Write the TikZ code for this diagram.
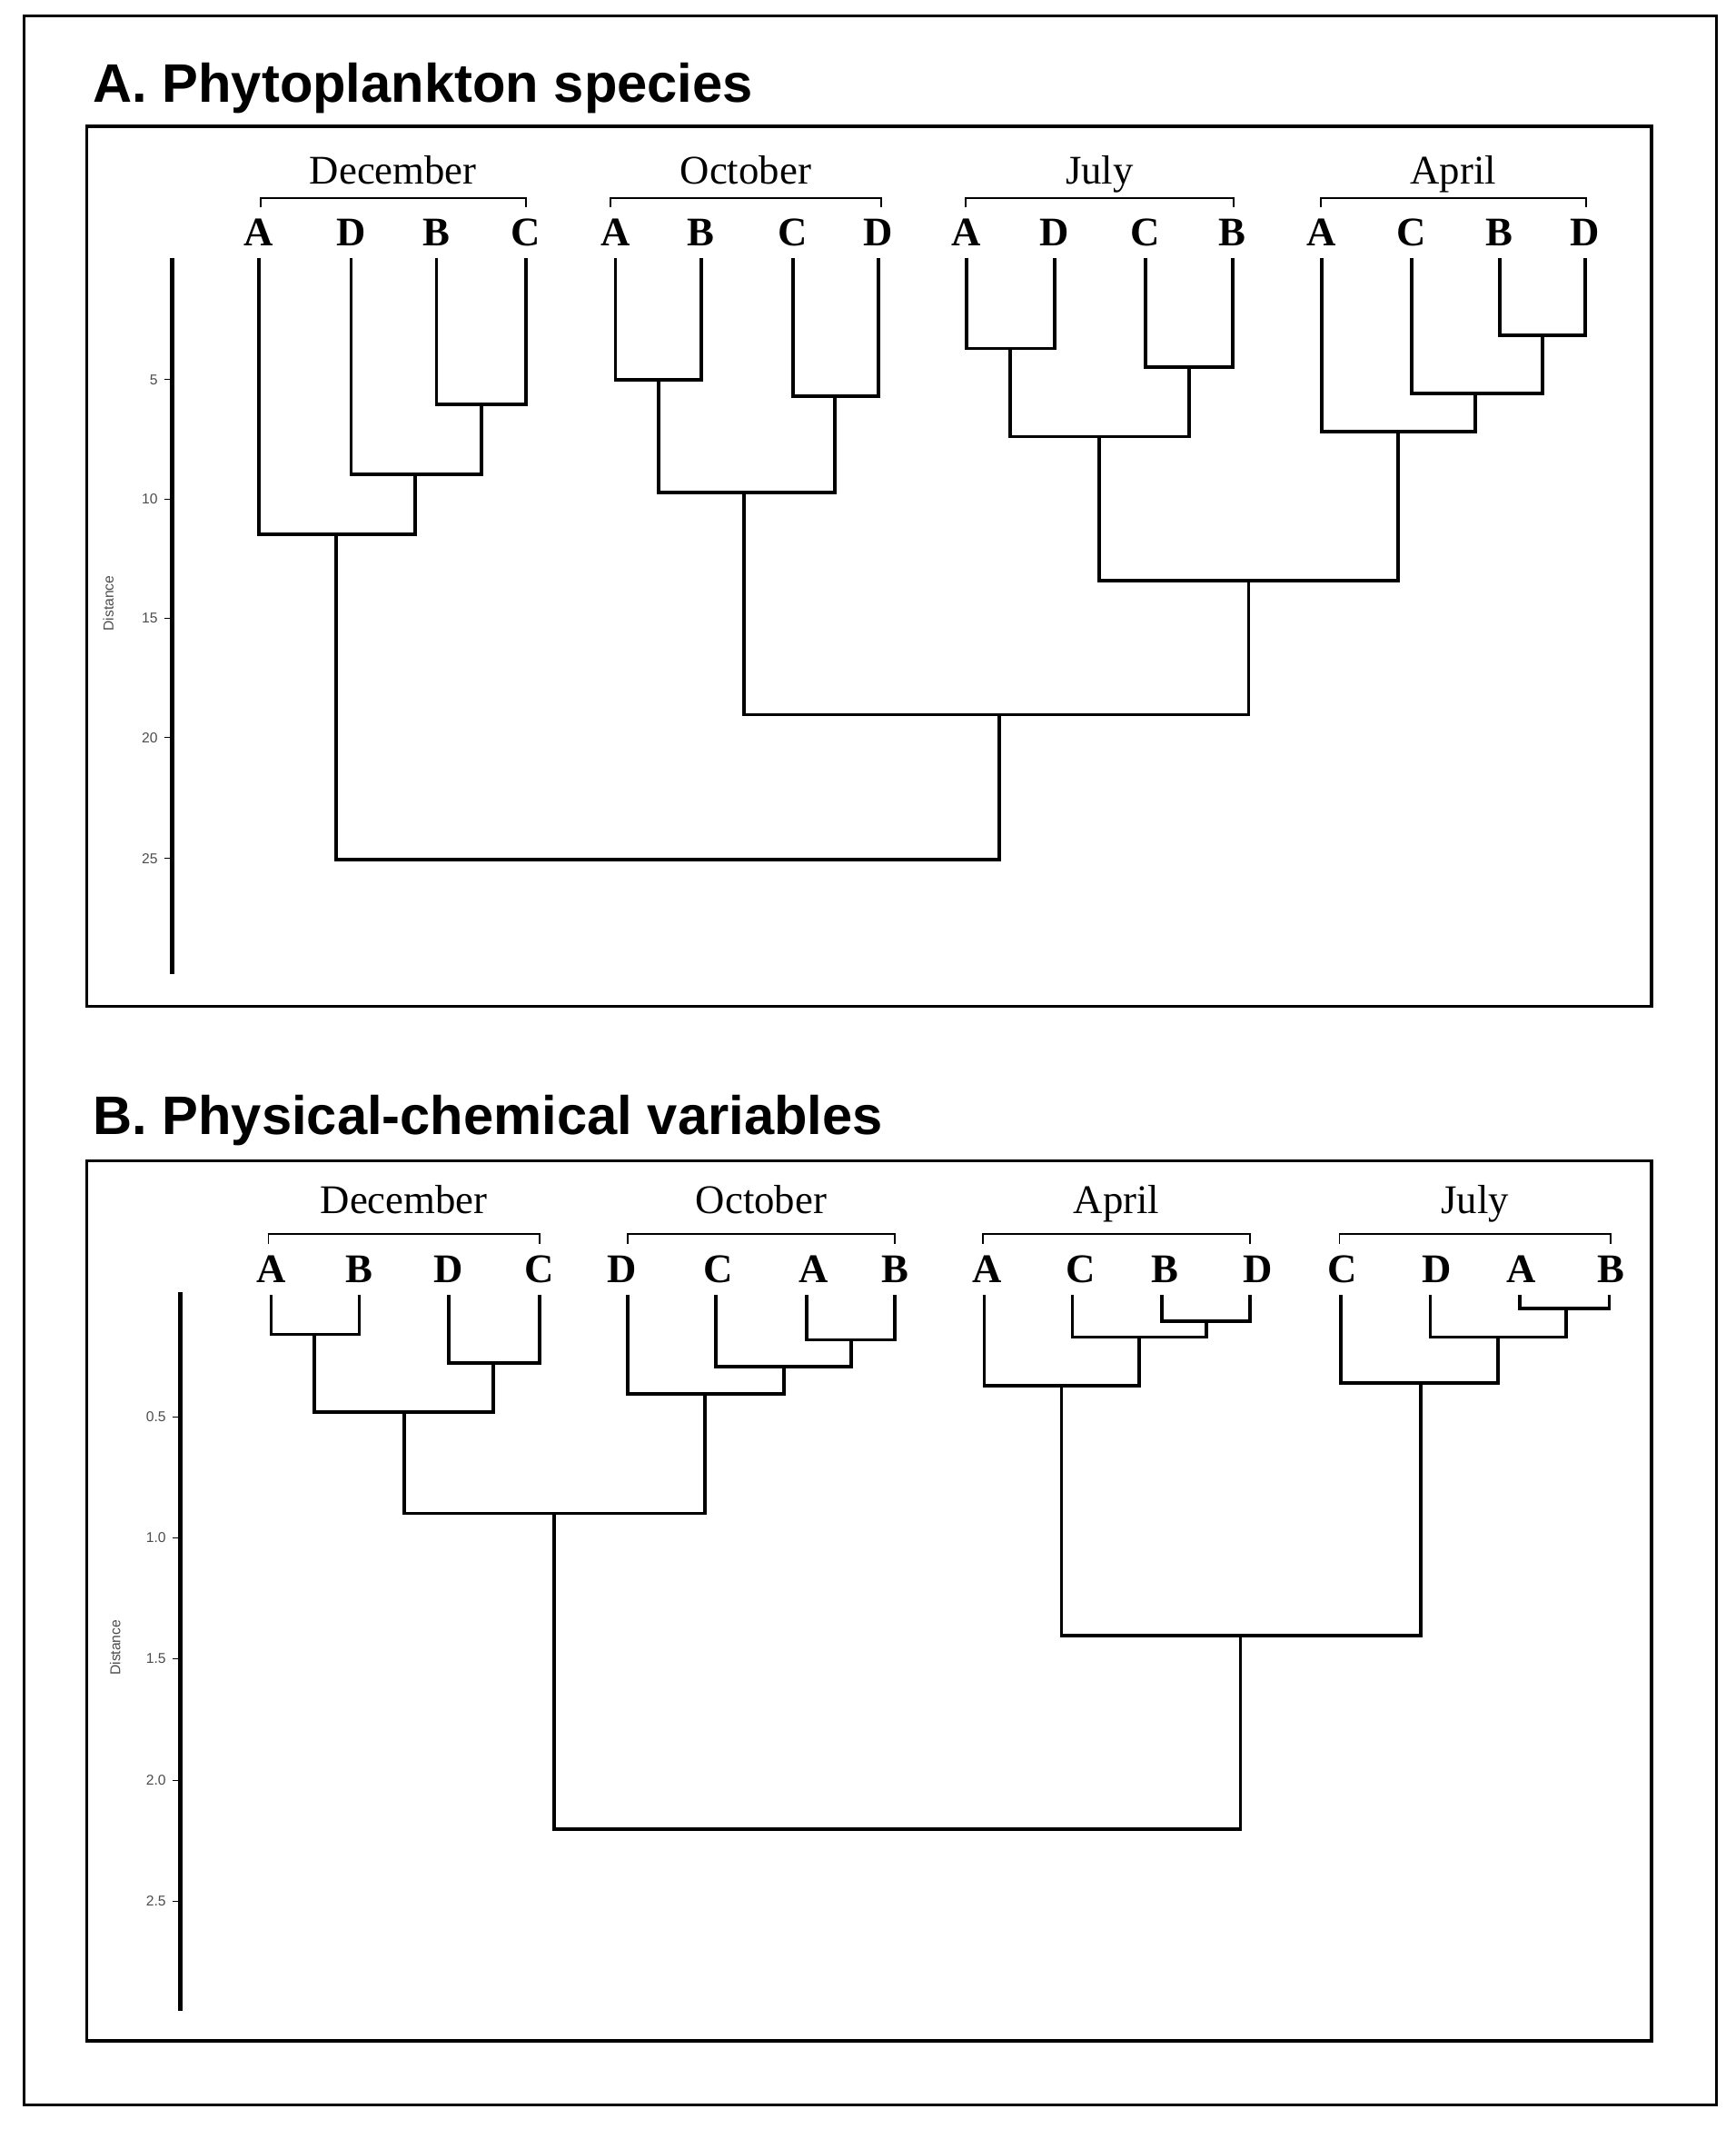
\documentclass[tikz,border=0pt]{standalone}
\usepackage{fontspec}
\setmainfont{Liberation Serif}
\newfontfamily\sansf{Liberation Sans}
\begin{document}
\begin{tikzpicture}[x=1pt,y=-1pt,line width=2.6pt,
  ttl/.style={anchor=west,font=\sansf\bfseries\fontsize{40}{42}\selectfont},
  mon/.style={font=\fontsize{30}{32}\selectfont,anchor=base},
  lf/.style={font=\bfseries\fontsize{30}{32}\selectfont,anchor=base},
  tk/.style={font=\sansf\fontsize{10.5}{11}\selectfont,anchor=east,text=black!70},
  br/.style={line width=1.3pt}]
\useasboundingbox (0,0) rectangle (1280,1570);
\newcommand\mrg[5]{\draw (#1,#2) -- (#1,#5) -- (#3,#5) -- (#3,#4);}
\draw[line width=2pt] (18,12) rectangle (1266,1552);
% ---------- Panel A
\node[ttl] (ta) at (64,65) {A. Phytoplankton species};
\draw[line width=2.4pt] (64,93) rectangle (1218,742);
\draw[line width=3pt] (127,190) -- (127,718);
\foreach \v/\y in {5/280,10/368,15/456,20/544,25/633}{
  \draw[line width=0.8pt] (121,\y) -- (127,\y);
  \node[tk] at (121,\y) {\v};}
\node[font=\sansf\fontsize{10.5}{11}\selectfont,rotate=90,text=black!70] (da) at (80,445) {Distance};
\foreach \m/\a/\b in {December/192/388,October/450/650,July/712/910,April/974/1170}{
  \draw[br] (\a,153) -- (\a,146) -- (\b,146) -- (\b,153);
  \node[mon] at ({(\a+\b)/2},136) {\m};}
\foreach \l/\x in {A/191,D/259,B/322,C/388,A/454,B/517,C/585,D/648,A/713,D/778,C/845,B/909,A/975,C/1041,B/1106,D/1169}
  \node[lf] at (\x,181) {\l};
\mrg{322}{190}{388}{190}{298}
\mrg{259}{190}{355}{298}{350}
\mrg{191}{190}{306}{350}{394}
\mrg{454}{190}{517}{190}{280}
\mrg{585}{190}{648}{190}{292}
\mrg{486}{280}{616}{292}{363}
\mrg{713}{190}{778}{190}{257}
\mrg{845}{190}{909}{190}{271}
\mrg{745}{257}{877}{271}{322}
\mrg{1106}{190}{1169}{190}{247}
\mrg{1041}{190}{1138}{247}{290}
\mrg{975}{190}{1088}{290}{318}
\mrg{811}{322}{1031}{318}{428}
\mrg{549}{363}{921}{428}{527}
\mrg{248}{394}{737}{527}{634}
% ---------- Panel B
\node[ttl] (tb) at (64,826) {B. Physical-chemical variables};
\draw[line width=2.4pt] (64,856) rectangle (1218,1505);
\draw[line width=3pt] (133,953) -- (133,1483);
\foreach \v/\y in {0.5/1045,1.0/1134,1.5/1223,2.0/1313,2.5/1402}{
  \draw[line width=0.8pt] (127,\y) -- (133,\y);
  \node[tk] at (127,\y) {\v};}
\node[font=\sansf\fontsize{10.5}{11}\selectfont,rotate=90,text=black!70] (db) at (85,1215) {Distance};
\foreach \m/\a/\b in {December/198/398,October/463/660,April/725/922,July/988/1188}{
  \draw[br] (\a,917) -- (\a,910) -- (\b,910) -- (\b,917);
  \node[mon] at ({(\a+\b)/2},895) {\m};}
\foreach \l/\x in {A/200,B/265,D/331,C/398,D/459,C/530,A/600,B/660,A/728,C/797,B/859,D/928,C/990,D/1060,A/1122,B/1188}
  \node[lf] at (\x,946) {\l};
\mrg{200}{955}{265}{955}{984}
\mrg{331}{955}{398}{955}{1005}
\mrg{232}{984}{364}{1005}{1041}
\mrg{595}{955}{660}{955}{988}
\mrg{528}{955}{628}{988}{1008}
\mrg{463}{955}{578}{1008}{1028}
\mrg{298}{1041}{520}{1028}{1116}
\mrg{857}{955}{922}{955}{974}
\mrg{791}{955}{890}{974}{986}
\mrg{726}{955}{840}{986}{1022}
\mrg{1121}{955}{1187}{955}{965}
\mrg{1055}{955}{1155}{965}{986}
\mrg{989}{955}{1105}{986}{1020}
\mrg{783}{1022}{1048}{1020}{1206}
\mrg{409}{1116}{915}{1206}{1349}
\end{tikzpicture}
\end{document}
